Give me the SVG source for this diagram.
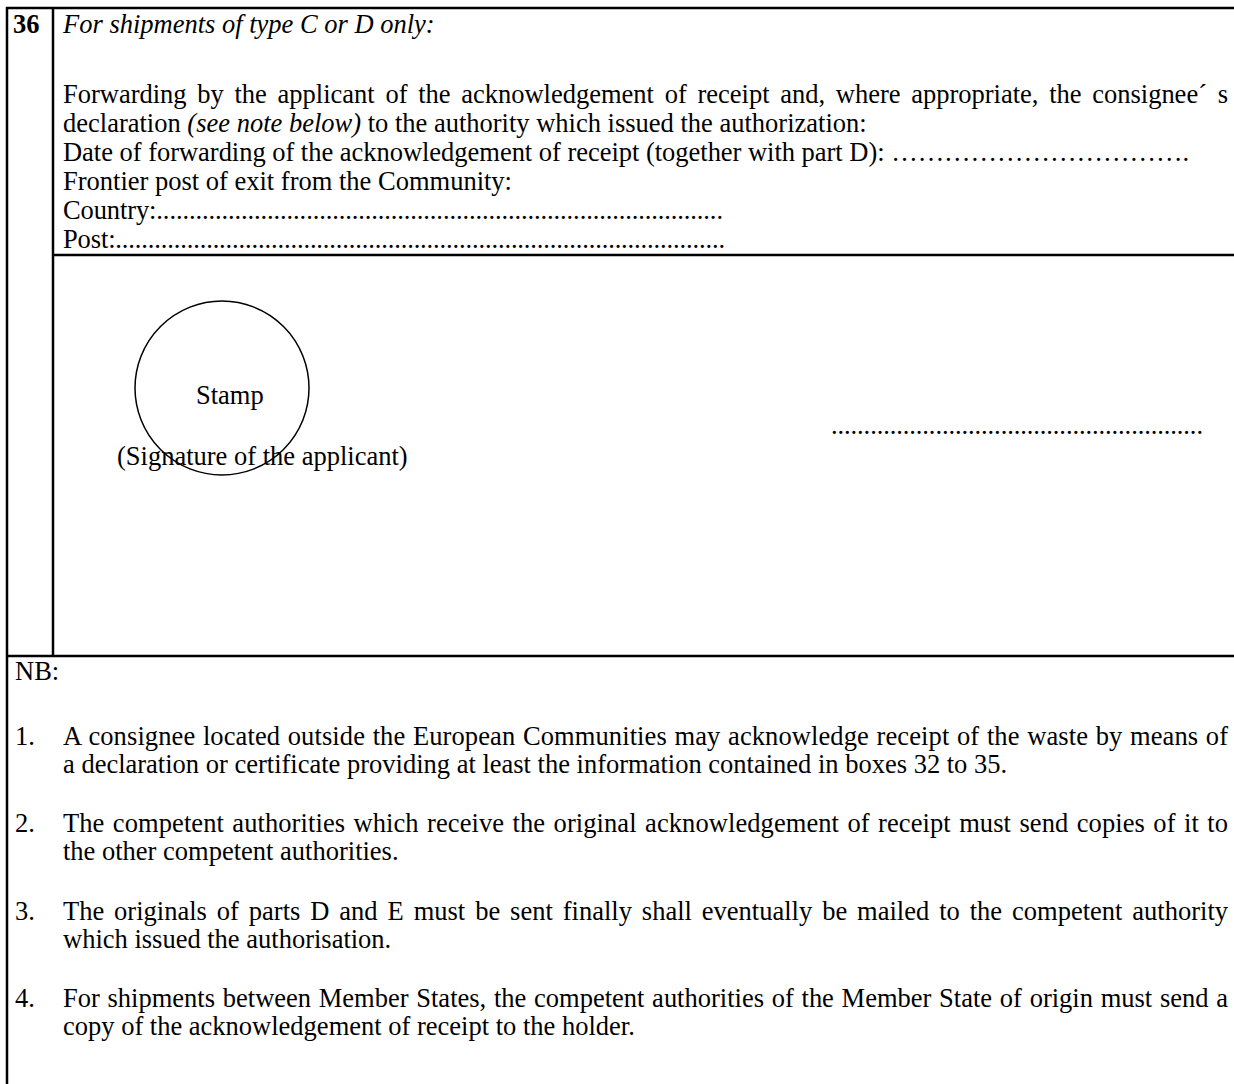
<svg xmlns="http://www.w3.org/2000/svg" width="1234" height="1084" viewBox="0 0 1234 1084">
<style>
text{font-family:"Liberation Serif","Times New Roman",serif;font-size:26.5px;fill:#000}
.rule{stroke:#000;stroke-width:2.5;fill:none}
.it{font-style:italic}
.b{font-weight:bold}
</style>
<rect width="1234" height="1084" fill="#fff"/>
<g id="frame">
<line class="rule" x1="6" y1="8" x2="1234" y2="8"/>
<line class="rule" x1="7" y1="7" x2="7" y2="1084"/>
<line class="rule" x1="53" y1="8" x2="53" y2="656"/>
<line class="rule" x1="53" y1="255" x2="1234" y2="255"/>
<line class="rule" x1="6" y1="656" x2="1234" y2="656"/>
</g>
<g id="box36">
<text class="b" x="13" y="33">36</text>
<text class="it" x="63" y="33">For shipments of type C or D only:</text>
<text x="63" y="103" word-spacing="4.1" textLength="1165" lengthAdjust="spacing">Forwarding by the applicant of the acknowledgement of receipt and, where appropriate, the consignee´ s</text>
<text x="63" y="132">declaration <tspan class="it">(see note below)</tspan> to the authority which issued the authorization:</text>
<text x="63" y="161" textLength="1126" lengthAdjust="spacing">Date of forwarding of the acknowledgement of receipt (together with part D): &#8230;&#8230;&#8230;&#8230;&#8230;&#8230;&#8230;&#8230;&#8230;&#8230;&#8230;.</text>
<text x="63" y="190">Frontier post of exit from the Community:</text>
<text x="63" y="219" textLength="660" lengthAdjust="spacing">Country:.......................................................................................</text>
<text x="63" y="248" textLength="662" lengthAdjust="spacing">Post:..............................................................................................</text>
</g>
<g id="stamp">
<circle cx="222" cy="388" r="87" fill="none" stroke="#000" stroke-width="1.5"/>
<text x="196" y="404">Stamp</text>
</g>
<g id="signature">
<text x="117" y="465">(Signature of the applicant)</text>
<text x="831" y="434" textLength="372" lengthAdjust="spacing">.........................................................</text>
</g>
<g id="notes">
<text x="15" y="680">NB:</text>
<text x="15" y="745">1.</text>
<text x="63" y="745" word-spacing="0.9" textLength="1165" lengthAdjust="spacing">A consignee located outside the European Communities may acknowledge receipt of the waste by means of</text>
<text x="63" y="773">a declaration or certificate providing at least the information contained in boxes 32 to 35.</text>
<text x="15" y="832">2.</text>
<text x="63" y="832" word-spacing="1.7" textLength="1165" lengthAdjust="spacing">The competent authorities which receive the original acknowledgement of receipt must send copies of it to</text>
<text x="63" y="860">the other competent authorities.</text>
<text x="15" y="920">3.</text>
<text x="63" y="920" word-spacing="3.3" textLength="1165" lengthAdjust="spacing">The originals of parts D and E must be sent finally shall eventually be mailed to the competent authority</text>
<text x="63" y="948">which issued the authorisation.</text>
<text x="15" y="1007">4.</text>
<text x="63" y="1007" word-spacing="1.1" textLength="1165" lengthAdjust="spacing">For shipments between Member States, the competent authorities of the Member State of origin must send a</text>
<text x="63" y="1035">copy of the acknowledgement of receipt to the holder.</text>
</g>
</svg>
